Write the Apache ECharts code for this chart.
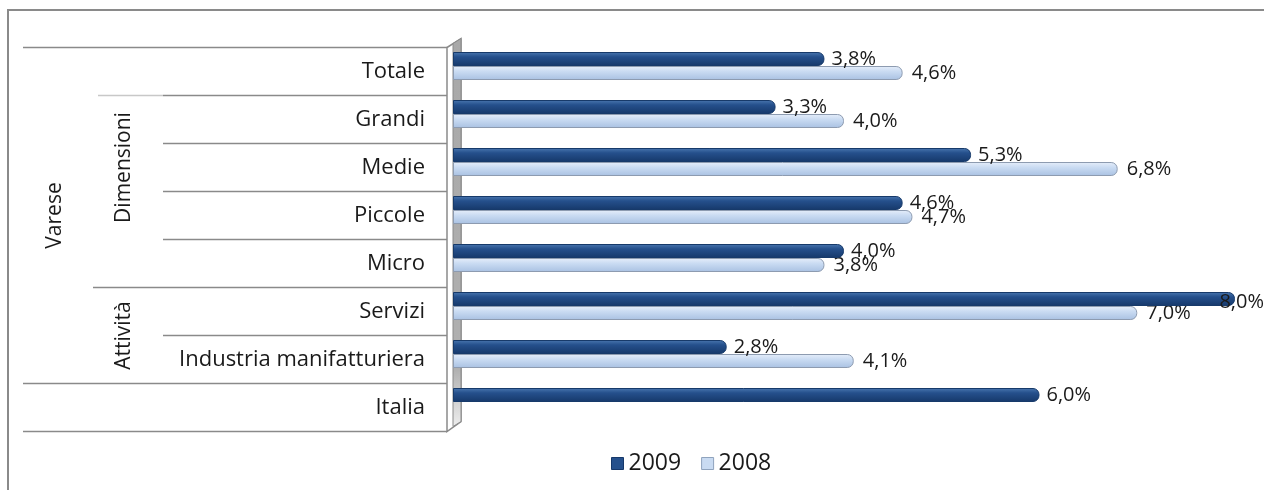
<!DOCTYPE html>
<html>
<head>
<meta charset="utf-8">
<script src="https://cdn.jsdelivr.net/npm/echarts@6/dist/echarts.min.js"></script>
<style>
html,body{margin:0;padding:0;background:#fff;}
#chart{width:1264px;height:490px;}
</style>
</head>
<body>
<div id="chart"></div>
<script>
// ---- data ----
const categories = ['Totale','Grandi','Medie','Piccole','Micro','Servizi','Industria manifatturiera','Italia'];
const values2009 = [3.8, 3.3, 5.3, 4.6, 4.0, 8.0, 2.8, 6.0];
const values2008 = [4.6, 4.0, 6.8, 4.7, 3.8, 7.0, 4.1, null];
const seriesNames = ['2009','2008'];
// hierarchy groups: [label, firstIndex, lastIndex]
const groupVarese = ['Varese', 0, 6];
const groupDimensioni = ['Dimensioni', 0, 4];
const groupAttivita = ['Attività', 5, 6];

const FONT = '"Open Sans"';
const W = 1264;
const chart = echarts.init(document.getElementById('chart'));

function fmt(p){ return p.value == null ? '' : p.value.toFixed(1).replace('.', ',') + '%'; }

const darkGrad = new echarts.graphic.LinearGradient(0,0,0,1,[
  {offset:0,color:'#4a77b0'},{offset:0.35,color:'#25508c'},{offset:1,color:'#16386a'}]);
const lightGrad = new echarts.graphic.LinearGradient(0,0,0,1,[
  {offset:0,color:'#e6eefa'},{offset:0.4,color:'#c9dbf2'},{offset:1,color:'#a9c1e2'}]);

const option = {
  animation:false,
  backgroundColor:'#fff',
  grid:{left:453, right:29, top:42, bottom:64, containLabel:false},
  xAxis:{type:'value', min:0, max:8, show:false},
  yAxis:{type:'category', data:categories, inverse:true,
    axisLine:{show:false}, axisTick:{show:false}, axisLabel:{show:false}},
  legend:{bottom:10, left:606, itemWidth:12, itemHeight:12, itemGap:20,
    textStyle:{fontFamily:FONT, fontSize:23, color:'#1a1a1a'},
    data:[{name:'2009', icon:'rect', itemStyle:{color:'#25508c', borderColor:'#16386a', borderWidth:1}},
          {name:'2008', icon:'rect', itemStyle:{color:'#c9dbf2', borderColor:'#8fa3bd', borderWidth:1}}]},
  labelLayout:function(p){
    if (p.labelRect && p.labelRect.x + p.labelRect.width > W) {
      return {x: W - p.labelRect.width, y: p.labelRect.y + p.labelRect.height/2};
    }
  },
  series:[
    {name:seriesNames[0], type:'bar', data:values2009, barWidth:14, barGap:'0%', z:5,
      itemStyle:{color:darkGrad, borderColor:'#173a6a', borderWidth:1, borderRadius:[0,6,6,0]},
      label:{show:true, position:'right', distance:7, offset:[0,-7], formatter:fmt,
        fontFamily:FONT, fontSize:20, color:'#1a1a1a'}},
    {name:seriesNames[1], type:'bar', data:values2008, barWidth:14, barGap:'0%', z:4,
      itemStyle:{color:lightGrad, borderColor:'#8d9bb0', borderWidth:1, borderRadius:[0,6,6,0]},
      label:{show:true, position:'right', distance:9, offset:[0,7], formatter:fmt,
        fontFamily:FONT, fontSize:20, color:'#1a1a1a'}}
  ]
};
chart.setOption(option);

// ---- decorations derived from axis positions ----
const SHIFT = 5.5; // category rows sit slightly below the bar pairs
const x0 = chart.convertToPixel({xAxisIndex:0}, 0);
const cy = categories.map((c,i)=>chart.convertToPixel({yAxisIndex:0}, i));
const band = cy[1]-cy[0];
const rowTop = i => cy[i] - band/2 + SHIFT;
const rowBot = i => cy[i] + band/2 + SHIFT;
const wallX = x0 - 6;
const g = [];
const lineStyle = {stroke:'#8a8a8a', lineWidth:1.5};
function hline(y, xs){ g.push({type:'line', shape:{x1:xs, y1:y, x2:wallX, y2:y}, style:lineStyle, z:1}); }
const xOuter = 23, xMid = 93, xInner = 163;
hline(rowTop(0), xOuter);
for (let i=1;i<=4;i++) hline(rowTop(i), xInner);
g.push({type:'line', shape:{x1:98, y1:rowTop(1), x2:xInner, y2:rowTop(1)}, style:{stroke:'#c8c8c8', lineWidth:1.5}, z:1});
hline(rowTop(5), xMid);
hline(rowTop(6), xInner);
hline(rowTop(7), xOuter);
hline(rowBot(7), xOuter);
// category labels
categories.forEach((c,i)=>{
  g.push({type:'text', x:wallX-22, y:cy[i]+SHIFT,
    style:{text:c, fontFamily:FONT, fontSize:22, fill:'#1a1a1a', align:'right', verticalAlign:'middle'}, z:2});
});
// group labels (rotated)
function vlabel(grp, x, fs){
  const yc = (rowTop(grp[1]) + rowBot(grp[2]))/2;
  g.push({type:'text', x:x, y:yc, rotation:Math.PI/2,
    style:{text:grp[0], fontFamily:FONT, fontSize:fs, fill:'#1a1a1a', align:'center', verticalAlign:'middle'}, z:2});
}
vlabel(groupVarese, 55, 21);
vlabel(groupDimensioni, 124, 21);
vlabel(groupAttivita, 124, 21);
// 3D wall
const wTop = rowTop(0), wBot = rowBot(7);
g.push({type:'polygon', shape:{points:[[wallX,wTop],[x0+8,wTop-9],[x0+8,wBot-10],[wallX,wBot]]},
  style:{fill:'#ffffff', stroke:'#8a8a8a', lineWidth:1.5}, z:1});
g.push({type:'polygon', shape:{points:[[x0,wTop-4],[x0+8,wTop-9],[x0+8,wBot-10],[x0,wBot-5]]},
  style:{fill:new echarts.graphic.LinearGradient(0,0,0,1,[{offset:0,color:'#a8a8a8'},{offset:0.85,color:'#b0b0b0'},{offset:1,color:'#eeeeee'}]), stroke:'#8a8a8a', lineWidth:1}, z:1});
// outer border
g.push({type:'polyline', shape:{points:[[8,490],[8,10],[W,10]]}, style:{stroke:'#8a8a8a', lineWidth:2, fill:null}, z:0});
chart.setOption({graphic:g});
</script>
</body>
</html>
